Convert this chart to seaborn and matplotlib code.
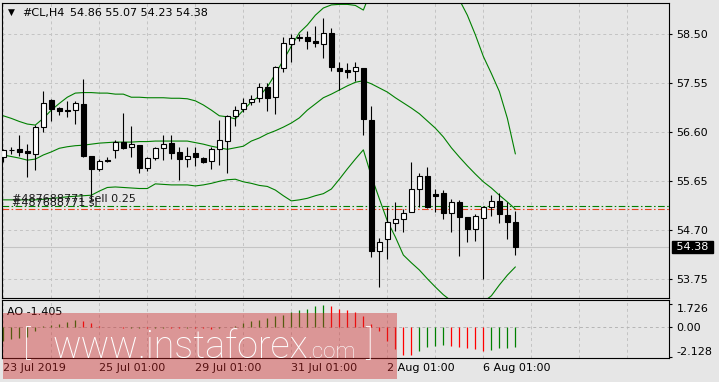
import numpy as np
import pandas as pd
import matplotlib
matplotlib.use("Agg")
import matplotlib.pyplot as plt
import seaborn as sns
from matplotlib.patches import Rectangle

# ---------------- data ----------------
opens = [56.13, 56.25, 56.28, 56.24, 56.17, 56.71, 57.23, 57.07, 57.03, 57.03,
         57.15, 56.14, 55.89, 56.06, 56.26, 56.42, 56.32, 56.35, 55.90, 56.10,
         56.29, 56.40, 56.22, 56.08, 56.20, 56.10, 56.05, 56.27, 56.44, 56.92,
         57.05, 57.18, 57.26, 57.48, 57.28, 57.85, 58.31, 58.43, 58.44, 58.37,
         58.31, 58.52, 57.85, 57.81, 57.79, 57.85, 56.84, 54.30, 54.53, 54.84,
         54.92, 55.05, 55.50, 55.75, 55.40, 55.43, 55.03, 55.25, 54.95, 54.73,
         54.93, 55.15, 55.27, 55.00, 54.86]
highs = [56.28, 56.32, 56.55, 56.37, 56.74, 57.40, 57.25, 57.10, 57.21, 57.21,
         57.63, 56.14, 56.08, 56.12, 56.45, 56.97, 56.72, 56.35, 56.13, 56.32,
         56.55, 56.55, 56.32, 56.32, 56.32, 56.13, 56.31, 56.84, 56.94, 57.11,
         57.26, 57.32, 57.55, 57.55, 57.89, 58.44, 58.50, 58.50, 58.56, 58.67,
         58.81, 58.63, 57.96, 57.94, 57.96, 57.85, 57.11, 54.55, 55.16, 55.25,
         55.11, 56.03, 55.82, 55.93, 55.51, 55.48, 55.31, 55.29, 54.96, 55.01,
         55.17, 55.38, 55.43, 55.25, 55.07]
lows = [56.02, 56.18, 56.15, 55.73, 55.87, 56.61, 56.82, 56.94, 56.90, 56.76,
        56.13, 55.29, 55.85, 56.02, 56.11, 56.27, 56.13, 55.81, 55.84, 56.06,
        56.06, 56.08, 55.68, 55.93, 55.95, 56.00, 55.88, 55.97, 55.82, 56.72,
        57.00, 57.13, 57.18, 57.02, 56.95, 57.76, 57.96, 58.37, 58.21, 58.26,
        58.05, 57.78, 57.42, 57.65, 57.60, 56.54, 54.19, 53.60, 54.14, 54.69,
        54.67, 55.05, 55.16, 55.14, 55.05, 54.92, 54.66, 54.20, 54.48, 54.50,
        53.75, 54.98, 54.84, 54.53, 54.23]
closes = [56.26, 56.26, 56.21, 56.19, 56.71, 57.16, 57.05, 57.02, 57.01, 57.16,
          56.14, 55.88, 56.04, 56.05, 56.42, 56.29, 56.37, 55.90, 56.10, 56.29,
          56.37, 56.20, 56.08, 56.14, 56.12, 56.03, 56.27, 56.46, 56.92, 57.03,
          57.16, 57.24, 57.48, 57.26, 57.87, 58.33, 58.42, 58.43, 58.37, 58.33,
          58.52, 57.87, 57.78, 57.76, 57.86, 56.85, 54.29, 54.47, 54.86, 54.92,
          55.03, 55.51, 55.75, 55.16, 55.37, 55.03, 55.24, 54.96, 54.73, 54.98,
          55.16, 55.27, 55.01, 54.86, 54.38]

bb_upper = [56.92, 56.87, 56.81, 56.76, 56.74, 56.87, 57.03, 57.16, 57.28, 57.36,
            57.37, 57.37, 57.36, 57.36, 57.34, 57.34, 57.28, 57.28, 57.27, 57.27,
            57.27, 57.26, 57.26, 57.25, 57.21, 57.13, 57.03, 56.92, 56.90, 56.86,
            57.03, 57.19, 57.30, 57.48, 57.73, 58.00, 58.27, 58.53, 58.68, 58.87,
            59.01, 59.07, 59.08, 59.08, 59.06, 58.97, 59.36, 59.65, 59.84, 59.98,
            60.04, 60.06, 60.02, 59.90, 59.75, 59.55, 59.32, 59.17, 58.87, 58.49,
            58.07, 57.74, 57.39, 56.87, 56.18]
bb_middle = [56.16, 56.13, 56.10, 56.06, 56.08, 56.16, 56.22, 56.29, 56.32, 56.34,
             56.35, 56.37, 56.39, 56.40, 56.41, 56.41, 56.41, 56.42, 56.42, 56.43,
             56.43, 56.43, 56.43, 56.43, 56.40, 56.37, 56.33, 56.30, 56.27, 56.30,
             56.33, 56.43, 56.49, 56.57, 56.63, 56.70, 56.78, 56.88, 57.03, 57.15,
             57.27, 57.34, 57.42, 57.50, 57.57, 57.60, 57.54, 57.46, 57.38, 57.27,
             57.17, 57.07, 56.96, 56.82, 56.68, 56.51, 56.30, 56.12, 55.95, 55.79,
             55.64, 55.52, 55.38, 55.25, 55.11]
bb_lower = [55.29, 55.29, 55.29, 55.29, 55.29, 55.30, 55.32, 55.33, 55.35, 55.36,
            55.37, 55.38, 55.46, 55.53, 55.54, 55.53, 55.52, 55.51, 55.51, 55.60,
            55.59, 55.58, 55.58, 55.58, 55.56, 55.58, 55.61, 55.65, 55.68, 55.69,
            55.64, 55.61, 55.57, 55.55, 55.48, 55.37, 55.27, 55.29, 55.32, 55.37,
            55.41, 55.50, 55.69, 55.89, 56.08, 56.26, 55.75, 55.31, 54.88, 54.57,
            54.22, 54.07, 53.93, 53.76, 53.60, 53.45, 53.33, 53.25, 53.21, 53.23,
            53.31, 53.43, 53.64, 53.83, 53.99]

ao_values = [-1.02, -0.85, -0.80, -0.70, -0.24, 0.12, 0.15, 0.24, 0.36, 0.51,
             0.48, 0.32, 0.12, 0.05, 0.02, -0.05, -0.03, -0.02, -0.04, -0.03,
             -0.02, -0.03, -0.06, -0.04, -0.05, -0.07, -0.09, -0.05, 0.00, 0.06,
             0.28, 0.45, 0.56, 0.68, 0.80, 0.92, 1.12, 1.24, 1.36, 1.58,
             1.60, 1.53, 1.36, 1.24, 1.09, 0.80, 0.24, -0.29, -0.97, -1.55,
             -1.99, -2.03, -1.70, -1.40, -1.33, -1.26, -1.33, -1.40, -1.51, -1.58,
             -1.75, -1.62, -1.51, -1.47, -1.405]

order_open_price = 55.18
order_sl_price = 55.11
last_price = 54.38
price_ticks = [58.50, 57.55, 56.60, 55.65, 54.70, 53.75]
ao_ticks = [1.726, 0.0, -2.128]
ao_tick_labels = ["1.726", "0.00", "-2.128"]
date_tick_pos = [0, 12, 24, 36, 48, 60]
date_tick_labels = ["23 Jul 2019", "25 Jul 01:00", "29 Jul 01:00",
                    "31 Jul 01:00", "2 Aug 01:00", "6 Aug 01:00"]
header_symbol = "#CL,H4"
header_ohlc = "54.86 55.07 54.23 54.38"
ao_label = "AO -1.405"
order_labels = ["#487688771 sell 0.25", "#487688771 sl"]

# ---------------- style ----------------
BG = "#e6e6e6"
GRID = "#c3c3c3"
GREEN = "#008000"
sns.set_theme(style="white", rc={"axes.facecolor": BG, "figure.facecolor": BG,
                                 "axes.edgecolor": "black", "axes.linewidth": 0.8})
plt.rcParams["font.family"] = ["DejaVu Sans"]
plt.rcParams["font.size"] = 8

W, H = 719, 382
fig = plt.figure(figsize=(W / 100, H / 100), dpi=100, facecolor=BG)


def fx(px):
    return px / W


def fy(py):
    return 1 - py / H


ax = fig.add_axes([fx(2), fy(298), (669 - 2) / W, (298 - 3) / H])
ax2 = fig.add_axes([fx(2), fy(358), (669 - 2) / W, (358 - 300) / H])

n = len(opens)
df = pd.DataFrame({"idx": np.arange(n), "open": opens, "high": highs,
                   "low": lows, "close": closes,
                   "upper": bb_upper, "middle": bb_middle, "lower": bb_lower,
                   "ao": ao_values})

# ---------------- main price panel ----------------
grid_ls = (0, (3, 3))
ax.set_xlim(-0.1625, 83.2)
ax.set_ylim(53.387, 59.107)
ax.set_xticks(np.arange(0, 84, 6))
ax.set_yticks(price_ticks)
ax.set_yticklabels([f"{p:.2f}" for p in price_ticks])
ax.yaxis.tick_right()
ax.tick_params(axis="x", length=0, labelbottom=False)
ax.tick_params(axis="y", direction="out", length=2.5, width=0.8, pad=3,
               labelsize=8, colors="black")
ax.grid(True, color=GRID, ls=grid_ls, lw=0.7, zorder=0)
ax.set_axisbelow(True)
for s in ax.spines.values():
    s.set_color("black")
    s.set_linewidth(0.8)

# bid line and order lines
ax.axhline(last_price, color="#c4c4c4", lw=0.8, zorder=1)
ax.axhline(order_open_price, color=GREEN, lw=0.8, ls=(0, (6, 2.2, 1.4, 2.2)), zorder=2)
ax.axhline(order_sl_price, color="#e8451e", lw=0.8, ls=(0, (6, 2.2, 1.4, 2.2)), zorder=2)

# Bollinger bands
for col in ["upper", "middle", "lower"]:
    sns.lineplot(data=df, x="idx", y=col, ax=ax, color=GREEN, lw=0.8,
                 estimator=None, legend=False, zorder=2)
ax.set_xlabel("")
ax.set_ylabel("")

# candles
up = df["close"] >= df["open"]
ax.vlines(df["idx"], df["low"], df["high"], color="black", lw=0.8, zorder=3)
body_bottom = np.minimum(df["open"], df["close"])
body_height = (df["close"] - df["open"]).abs().clip(lower=0.012)
ax.bar(df["idx"], body_height, bottom=body_bottom, width=0.6,
       color=np.where(up, "white", "black"), edgecolor="black", linewidth=0.8,
       zorder=4)

# order labels
ax.annotate(order_labels[0], xy=(0, order_open_price), xycoords=("axes fraction", "data"),
            xytext=(7, 2.3), textcoords="offset points", va="baseline", ha="left",
            fontsize=8, color="#1a1a1a", zorder=5)
ax.annotate(order_labels[1], xy=(0, order_sl_price), xycoords=("axes fraction", "data"),
            xytext=(7, 2.3), textcoords="offset points", va="baseline", ha="left",
            fontsize=8, color="#1a1a1a", zorder=5)

# current price box
ax.annotate(f" {last_price:.2f} ", xy=(1, last_price), xycoords=("axes fraction", "data"),
            xytext=(3, 0), textcoords="offset points", va="center", ha="left",
            fontsize=8, color="white", annotation_clip=False,
            bbox=dict(boxstyle="square,pad=0.08", fc="black", ec="black"))

# ---------------- AO panel ----------------
ax2.set_xlim(-0.1625, 83.2)
ax2.set_ylim(-2.234, 1.987)
ao_colors = [GREEN if (i == 0 or ao_values[i] > ao_values[i - 1]) else "#ff0000"
             for i in range(n)]
ax2.vlines(df["idx"], 0, df["ao"], colors=ao_colors, lw=0.9, zorder=3)
ax2.axhline(0, color="#b5b5b5", ls=grid_ls, lw=0.7, zorder=1)
ax2.set_xticks(date_tick_pos)
ax2.set_xticklabels(date_tick_labels)
ax2.set_xticks([p for p in range(0, 84, 6) if p not in date_tick_pos], minor=True)
ax2.grid(True, axis="x", which="both", color=GRID, ls=grid_ls, lw=0.7, zorder=0)
ax2.set_axisbelow(True)
ax2.tick_params(axis="x", which="major", direction="out", length=3, width=0.8,
                pad=0.5, labelsize=8, colors="black")
ax2.tick_params(axis="x", which="minor", length=0)
for lbl in ax2.get_xticklabels():
    lbl.set_ha("left")
ax2.yaxis.tick_right()
ax2.set_yticks(ao_ticks)
ax2.set_yticklabels(ao_tick_labels)
ax2.tick_params(axis="y", direction="out", length=2.5, width=0.8, pad=3,
                labelsize=8, colors="black")
ylabels = ax2.get_yticklabels()
ylabels[0].set_va("top")
ylabels[-1].set_va("bottom")
for s in ax2.spines.values():
    s.set_color("black")
    s.set_linewidth(0.8)

# ---------------- header texts ----------------
fig.text(fx(11), fy(12.5), "\u25BC", fontsize=6.5, ha="center", va="center", color="black")
fig.text(fx(21.7), fy(12.7), header_symbol, fontsize=8, ha="left", va="center", color="black")
fig.text(fx(70), fy(12.7), header_ohlc, fontsize=8, ha="left", va="center", color="black")
fig.text(fx(7.3), fy(312), ao_label, fontsize=8, ha="left", va="center", color="black")

# ---------------- watermark ----------------
fig.add_artist(Rectangle((fx(3), fy(378.5)), (397 - 3) / W, (378.5 - 313) / H,
                         transform=fig.transFigure, facecolor=(205 / 255, 40 / 255, 40 / 255),
                         alpha=0.42, edgecolor="none", zorder=10))
wm = dict(color="white", family=["Roboto", "Liberation Sans"], fontweight="light",
          va="baseline", ha="left", zorder=11)
fig.text(fx(23), fy(355), "[", fontsize=25, **wm)
fig.text(fx(52), fy(358), "www.instaforex", fontsize=27.2, **wm)
fig.text(fx(307), fy(358), ".com", fontsize=16, **wm)
fig.text(fx(365), fy(355), "]", fontsize=25, **wm)

fig.savefig("out.png", dpi=100, facecolor=BG)
